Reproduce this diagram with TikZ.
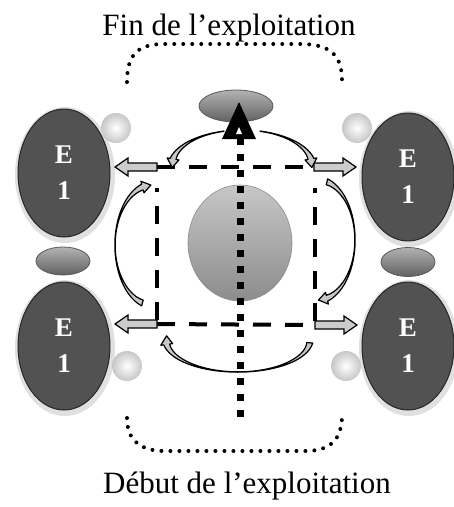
\documentclass[tikz,border=0pt]{standalone}
\usepackage{fontspec}
\setmainfont{Liberation Serif}
\usetikzlibrary{shapes.geometric}
\tikzset{
  bigE/.style={ellipse, draw=black!85, line width=1pt, fill=black!68,
    minimum width=92pt, minimum height=128pt, inner sep=0pt, text=white,
    font=\bfseries\fontsize{27}{36}\selectfont, align=center},
  eshadow/.style={ellipse, fill=black!12, minimum width=100pt, minimum height=136pt, inner sep=0pt},
  smallov/.style={ellipse, draw=black!65, line width=0.8pt, top color=black!30,
    bottom color=black!62, inner sep=0pt},
  wball/.style={circle, inner color=white, outer color=black!22, minimum size=30pt, inner sep=0pt},
  bigball/.style={ellipse, draw=black!45, line width=0.6pt, top color=black!22,
    bottom color=black!45, minimum width=104pt, minimum height=116pt, inner sep=0pt},
  carr/.style={draw=black, line width=1.2pt, fill=black!22, line join=round},
  barr/.style={draw=black, line width=1.2pt, fill=black!20, line join=miter},
  dsq/.style={line width=4pt, dash pattern=on 18pt off 14pt},
  dvert/.style={line width=7pt, dash pattern=on 7pt off 9pt},
  rdot/.style={line width=4pt, line cap=round, dash pattern=on 0pt off 9pt},
  ttl/.style={font=\fontsize{31}{36}\selectfont, anchor=base, inner sep=0pt}
}
\newcommand\curvarr[7]{%
  \pgfmathsetmacro\arcL{(#6)-(#7)}%
  \pgfmathsetmacro\arcsg{sign((#6)-(#5))}%
  \pgfmathsetmacro\arcspd{sqrt(((#3)*sin(#6))*((#3)*sin(#6))+((#4)*cos(#6))*((#4)*cos(#6)))}%
  \pgfmathsetmacro\arcend{(#6)+\arcsg*9/\arcspd*180/pi}%
  \filldraw[carr] plot[domain=#5:#6, samples=40, variable=\t]
    ({#1+(#3+0.5*(0.3+5.7*((\t-(#7))/\arcL)*((\t-(#7))/\arcL)))*cos(\t)},
     {#2+(#4+0.5*(0.3+5.7*((\t-(#7))/\arcL)*((\t-(#7))/\arcL)))*sin(\t)})
    -- ({#1+(#3+6)*cos(#6)},{#2+(#4+6)*sin(#6)})
    -- ({#1+(#3)*cos(\arcend)},{#2+(#4)*sin(\arcend)})
    -- ({#1+(#3-6)*cos(#6)},{#2+(#4-6)*sin(#6)})
    -- plot[domain=#6:#5, samples=40, variable=\t]
    ({#1+(#3-0.5*(0.3+5.7*((\t-(#7))/\arcL)*((\t-(#7))/\arcL)))*cos(\t)},
     {#2+(#4-0.5*(0.3+5.7*((\t-(#7))/\arcL)*((\t-(#7))/\arcL)))*sin(\t)})
    -- cycle;}
\newcommand\blockarr[2]{%
  \filldraw[barr] (#1) ++(0,-4) -- ++({(#2)*29},0) -- ++(0,-5) -- ++({(#2)*13},9)
    -- ++({(#2)*(-13)},9) -- ++(0,-5) -- ++({(#2)*(-29)},0) -- cycle;}
\begin{document}
\begin{tikzpicture}[x=1pt,y=-1pt]
  \fill[white] (0,0) rectangle (454,507);
  \useasboundingbox (0,0) rectangle (454,507);

  % titles
  \node[ttl] (title) at (229,35) {Fin de l’exploitation};
  \node[ttl] (subtitle) at (247,493) {Début de l’exploitation};

  % dotted brackets
  \draw[rdot] (127,82) .. controls (127,52) and (140,44) .. (165,44) -- (300,44)
    .. controls (330,44) and (342,55) .. (342,80);
  \draw[rdot] (127,418) .. controls (127,440) and (140,451) .. (165,451) -- (305,451)
    .. controls (330,451) and (342,440) .. (342,415);

  % small ovals
  \node[smallov, minimum width=54pt, minimum height=28pt] (ovl) at (63,261) {};
  \node[smallov, minimum width=54pt, minimum height=29pt] (ovr) at (408,262) {};

  % E1 ellipses with soft shadow
  \node[eshadow] (stl) at (65,175) {};
  \node[eshadow] (str) at (409,179) {};
  \node[eshadow] (sbl) at (65,348) {};
  \node[eshadow] (sbr) at (409,348) {};
  \node[bigE] (etl) at (64,173) {E\\1};
  \node[bigE] (etr) at (408,177) {E\\1};
  \node[bigE] (ebl) at (64,346) {E\\1};
  \node[bigE] (ebr) at (408,346) {E\\1};

  % white balls
  \node[wball] (b1) at (116,128) {};
  \node[wball] (b2) at (357,128) {};
  \node[wball] (b3) at (127,366) {};
  \node[wball] (b4) at (346,366) {};

  % central ball
  \node[bigball] (ctr) at (240,243) {};

  % dashed square
  \coordinate (ctl) at (157,167);
  \coordinate (ctr2) at (314,167);
  \coordinate (cbl) at (157,324);
  \coordinate (cbr) at (315,325);
  \draw[dsq] (ctl) -- (ctr2);
  \draw[dsq] (cbl) -- (cbr);
  \draw[dsq, dash phase=-4pt] (cbl) -- (157,188);
  \draw[dsq, dash phase=-4pt] (cbr) -- (315,188);

  % vertical dotted line
  \coordinate (vb) at (240,417);
  \coordinate (vt) at (240,136);
  \draw[dvert] (vb) -- (vt);

  % block arrows
  \blockarr{ctl}{-1}
  \blockarr{ctr2}{1}
  \blockarr{cbl}{-1}
  \blockarr{cbr}{1}

  % curved arrows
  \curvarr{242}{165}{70}{35}{-105}{-170}{-105}
  \curvarr{242}{165}{70}{35}{-75}{-10}{-75}
  \curvarr{318}{240}{37}{60}{-76}{76}{0}
  \curvarr{152}{245}{37}{60}{105}{255}{180}
  \curvarr{238}{340}{72}{32}{5}{172}{88.5}

  % top oval and arrowhead
  \node[smallov, minimum width=74pt, minimum height=32pt] (ovt) at (236,106) {};
  \fill[black] (222,139) -- (239,102) -- (256,139) -- cycle;
  \fill[white] (236,134) -- (239,127) -- (242,134) -- cycle;
\end{tikzpicture}
\end{document}
